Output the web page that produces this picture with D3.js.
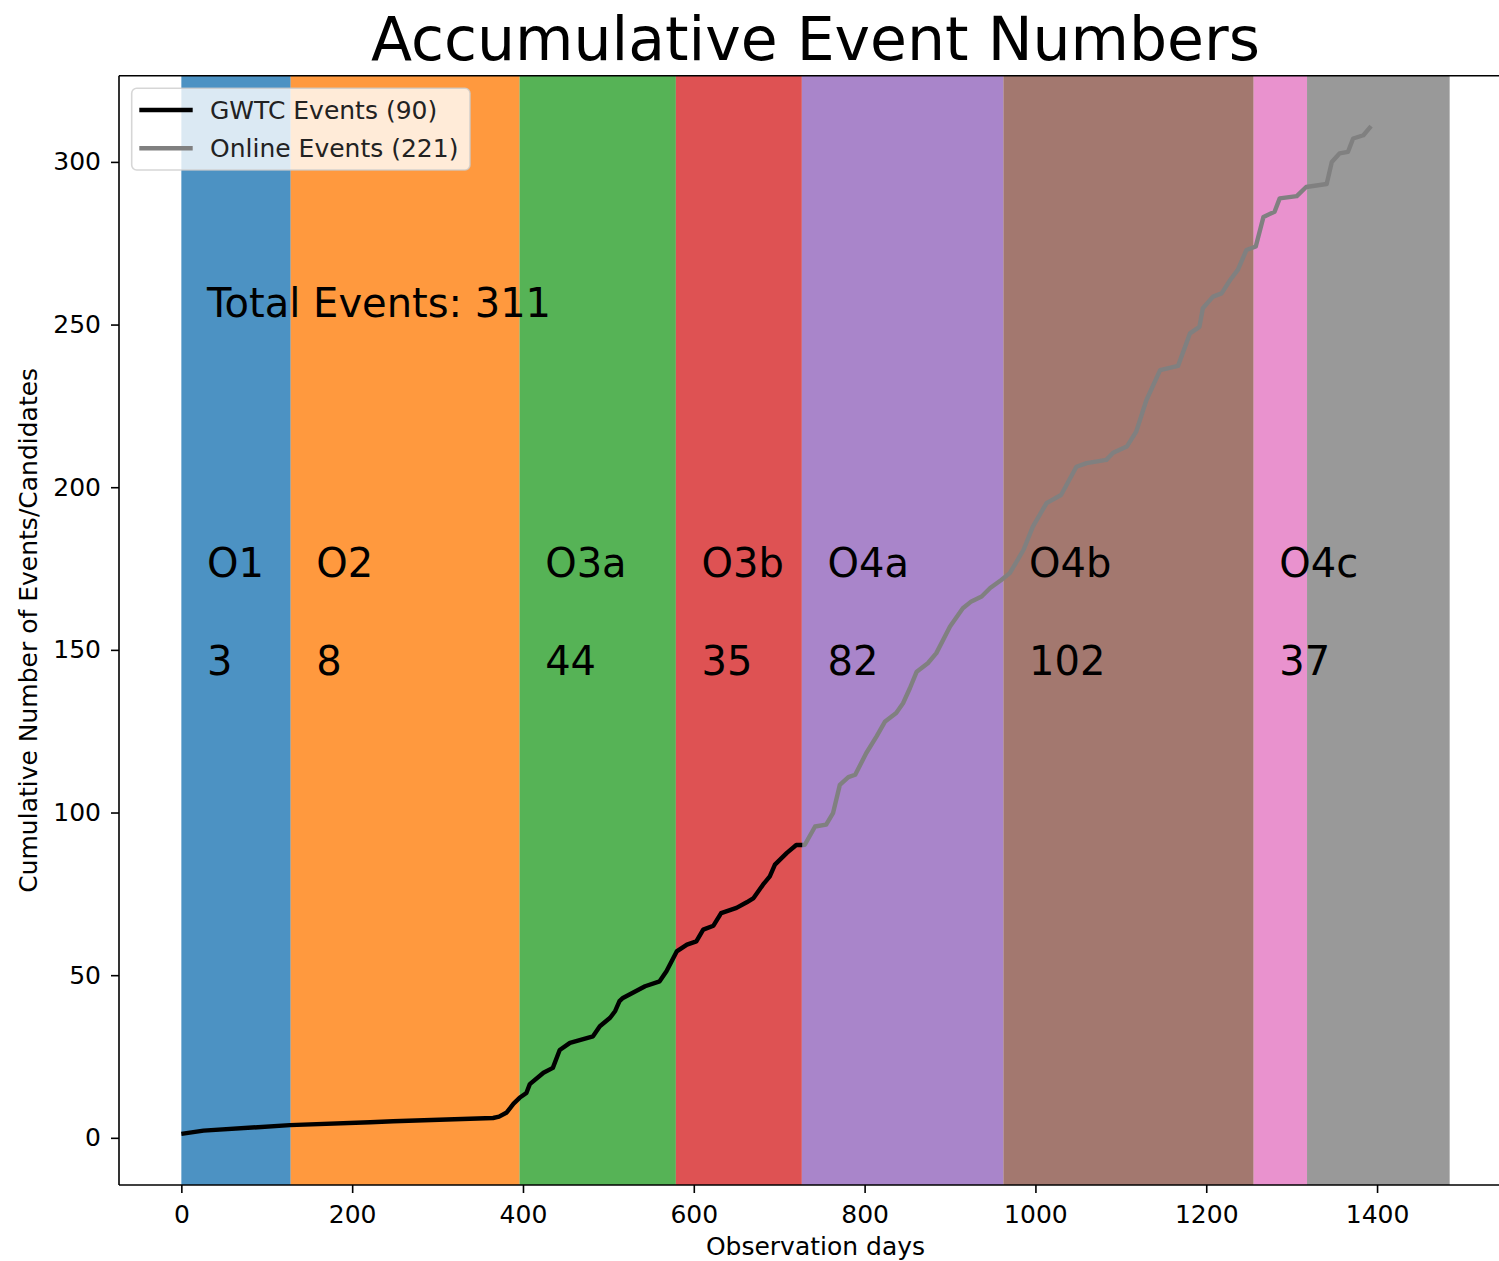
<!DOCTYPE html>
<html>
<head>
<meta charset="utf-8">
<script src="https://cdn.jsdelivr.net/npm/d3@7"></script>
<style>
  html, body { margin: 0; padding: 0; background: #fff; }
  svg { display: block; font-family: "DejaVu Sans", sans-serif; }
</style>
</head>
<body>
<svg id="chart" width="1499" height="1261"></svg>
<script>
// ---- data ----
const runNames = ["O1", "O2", "O3a", "O3b", "O4a", "O4b", "O4c"];
const runCounts = [3, 8, 44, 35, 82, 102, 37];
const bandEdges = [0, 128, 396, 579, 726.5, 962.5, 1255.5, 1318, 1485];
const bandColors = ["#1f77b4", "#ff7f0e", "#2ca02c", "#d62728", "#9467bd", "#8c564b", "#e377c2", "#7f7f7f"];

const gwtcDays = [0, 26, 127, 221, 248, 365, 372, 381, 389, 396, 404, 408, 424, 435, 443, 455, 482, 490, 502, 508, 513, 517, 543, 560, 568, 580, 592, 603, 611, 623, 632, 650, 662, 670, 681, 689, 695, 709, 720, 727];
const gwtcCount = [1.2, 2.2, 3.9, 4.8, 5.1, 6.1, 6.5, 7.8, 10.5, 12.3, 13.8, 16.5, 20, 21.5, 27, 29.2, 31.2, 34.3, 36.9, 39, 42, 43, 46.6, 48.1, 51.2, 57.3, 59.4, 60.4, 64, 65.2, 69.1, 70.7, 72.4, 73.7, 77.8, 80.4, 84, 87.6, 90, 90];

const onlineDays = [727, 730, 742, 755, 763, 771, 781, 789, 802, 814, 824, 837, 845, 853, 861, 874, 884, 900, 915, 925, 937, 947, 960, 970, 986, 997, 1013, 1030, 1048, 1060, 1083, 1091, 1107, 1118, 1130, 1146, 1167, 1181, 1192, 1196, 1208, 1218, 1228, 1237, 1247, 1258, 1267, 1280, 1286, 1306, 1317, 1341, 1347, 1356, 1366, 1372, 1384, 1393];
const onlineCount = [90, 90.1, 95.7, 96.3, 99.8, 108.5, 110.9, 111.6, 118.3, 123.4, 128, 130.6, 133.6, 138.2, 143.3, 145.9, 149, 157.2, 162.8, 164.9, 166.4, 169, 171.5, 173.6, 180.7, 187.9, 195.1, 197.6, 206.3, 207.4, 208.4, 210.6, 212.5, 217.1, 226.8, 236, 237.3, 247.3, 249.3, 255, 258.6, 259.6, 263.7, 266.8, 272.9, 274, 283.1, 284.7, 288.8, 289.5, 292.3, 293.2, 300, 302.6, 303.1, 307.2, 308.2, 311];

const xTicks = [0, 200, 400, 600, 800, 1000, 1200, 1400];
const yTicks = [0, 50, 100, 150, 200, 250, 300];

const titleText = "Accumulative Event Numbers";
const totalText = "Total Events: 311";
const legendLabels = ["GWTC Events (90)", "Online Events (221)"];
const legendColors = ["#000000", "#808080"];

// ---- layout ----
const L = 119, R = 1512, T = 75.7, B = 1185;
const x = d3.scaleLinear().domain([-73, 1558]).range([L, R]);
const y = d3.scaleLinear().domain([-14.5, 326.5]).range([B, T]);
const smallFont = "25px";

const svg = d3.select("#chart");

// bands
const bands = d3.range(bandEdges.length - 1).map(i => ({x0: bandEdges[i], x1: bandEdges[i + 1], c: bandColors[i]}));
svg.append("g").selectAll("rect").data(bands).join("rect")
  .attr("x", d => x(d.x0)).attr("y", T)
  .attr("width", d => x(d.x1) - x(d.x0)).attr("height", B - T)
  .attr("fill", d => d.c).attr("fill-opacity", 0.8);

// run labels
const lab = svg.append("g").attr("fill", "#000").style("font-size", "40px");
runNames.forEach((n, i) => {
  lab.append("text").attr("x", x(bandEdges[i] + 30)).attr("y", y(172.4)).text(n);
  lab.append("text").attr("x", x(bandEdges[i] + 30)).attr("y", y(142.4)).text(runCounts[i]);
});
svg.append("text").attr("x", x(30)).attr("y", y(252.2)).style("font-size", "40px").attr("fill", "#000").text(totalText);

// lines
const line = d3.line().x(d => x(d[0])).y(d => y(d[1]));
svg.append("path").datum(onlineDays.map((d, i) => [d, onlineCount[i]]))
  .attr("d", line).attr("fill", "none").attr("stroke", legendColors[1])
  .attr("stroke-width", 4.4).attr("stroke-linejoin", "round").attr("stroke-linecap", "butt");
svg.append("path").datum(gwtcDays.map((d, i) => [d, gwtcCount[i]]))
  .attr("d", line).attr("fill", "none").attr("stroke", legendColors[0])
  .attr("stroke-width", 4.4).attr("stroke-linejoin", "round").attr("stroke-linecap", "butt");

// axes
const xAxis = svg.append("g").attr("transform", `translate(0,${B})`)
  .call(d3.axisBottom(x).tickValues(xTicks).tickSize(8).tickPadding(12).tickFormat(d3.format("d")));
const yAxis = svg.append("g").attr("transform", `translate(${L},0)`)
  .call(d3.axisLeft(y).tickValues(yTicks).tickSize(8).tickPadding(10).tickFormat(d3.format("d")));
[xAxis, yAxis].forEach(a => {
  a.select(".domain").remove();
  a.selectAll(".tick line").attr("stroke", "#000").attr("stroke-width", 1.6);
  a.selectAll(".tick text").attr("fill", "#000").style("font-size", smallFont).style("font-family", "DejaVu Sans");
});

// spines
const sp = svg.append("g").attr("stroke", "#000").attr("stroke-width", 1.6).attr("fill", "none");
sp.append("line").attr("x1", L).attr("x2", L).attr("y1", T).attr("y2", B);
sp.append("line").attr("x1", L).attr("x2", R).attr("y1", B).attr("y2", B);
sp.append("line").attr("x1", L).attr("x2", R).attr("y1", T).attr("y2", T);
sp.append("line").attr("x1", R).attr("x2", R).attr("y1", T).attr("y2", B);

// legend
const lg = svg.append("g");
lg.append("rect").attr("x", 131.7).attr("y", 88.3).attr("width", 338.3).attr("height", 81.7)
  .attr("rx", 5).attr("fill", "#fff").attr("fill-opacity", 0.8)
  .attr("stroke", "#cccccc").attr("stroke-opacity", 0.8).attr("stroke-width", 1.6);
legendLabels.forEach((t, i) => {
  const yy = 110 + i * 38.3;
  lg.append("line").attr("x1", 139.3).attr("x2", 192.7).attr("y1", yy).attr("y2", yy)
    .attr("stroke", legendColors[i]).attr("stroke-width", 4.4);
  lg.append("text").attr("x", 210).attr("y", yy).attr("dy", "0.36em")
    .style("font-size", smallFont).attr("fill", "#222").text(t);
});

// title and axis labels
svg.append("text").attr("x", (L + R) / 2).attr("y", 60).attr("text-anchor", "middle")
  .style("font-size", "60px").attr("fill", "#000").text(titleText);
svg.append("text").attr("x", (L + R) / 2).attr("y", 1255).attr("text-anchor", "middle")
  .style("font-size", smallFont).attr("fill", "#000").text("Observation days");
svg.append("text").attr("transform", `translate(37,${(T + B) / 2}) rotate(-90)`).attr("text-anchor", "middle")
  .style("font-size", smallFont).attr("fill", "#000").text("Cumulative Number of Events/Candidates");
</script>
</body>
</html>
